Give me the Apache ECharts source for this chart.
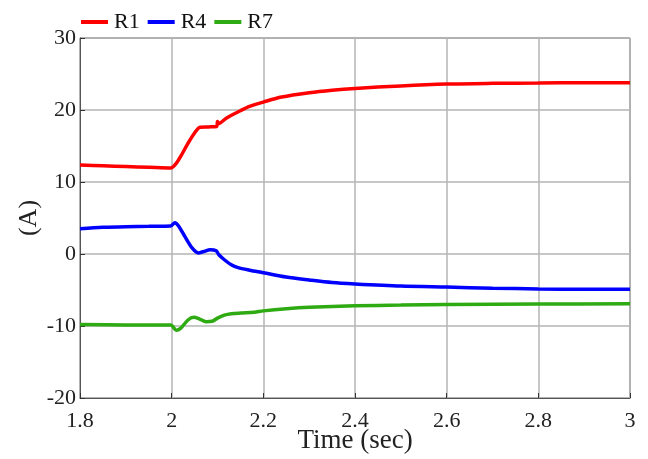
<!DOCTYPE html>
<html>
<head>
<meta charset="utf-8">
<script src="https://cdn.jsdelivr.net/npm/echarts@6/dist/echarts.min.js"></script>
<style>html,body{margin:0;padding:0;background:#fff}#c{width:648px;height:459px}</style>
</head>
<body>
<div id="c"></div>
<script>
var seriesNames = ['R1', 'R4', 'R7'];
var xTicks = [1.8, 2, 2.2, 2.4, 2.6, 2.8, 3];
var yTicks = [-20, -10, 0, 10, 20, 30];

var r1Time = [1.8,1.85,1.9,1.95,1.998,2.01,2.02,2.035,2.05,2.062,2.08,2.098,2.1,2.102,2.12,2.15,2.17,2.2,2.24,2.3,2.35,2.4,2.5,2.6,2.7,2.8,2.9,3.0];
var r1Values = [12.35,12.25,12.15,12.05,11.95,12.6,13.6,15.3,16.8,17.6,17.65,17.7,18.4,18.1,18.9,19.9,20.5,21.1,21.8,22.4,22.75,23.0,23.35,23.6,23.7,23.75,23.8,23.8];

var r4Time = [1.8,1.85,1.9,1.95,1.998,2.007,2.015,2.03,2.045,2.058,2.07,2.084,2.097,2.103,2.115,2.13,2.145,2.17,2.2,2.25,2.3,2.35,2.4,2.5,2.6,2.7,2.8,2.9,3.0];
var r4Values = [3.5,3.7,3.8,3.85,3.9,4.35,3.9,2.3,0.8,0.15,0.35,0.6,0.45,-0.1,-0.8,-1.5,-1.9,-2.25,-2.6,-3.2,-3.6,-3.95,-4.15,-4.45,-4.6,-4.75,-4.85,-4.9,-4.9];

var r7Time = [1.8,1.9,1.998,2.01,2.02,2.035,2.048,2.06,2.075,2.088,2.1,2.115,2.13,2.15,2.18,2.2,2.25,2.3,2.4,2.5,2.6,2.8,3.0];
var r7Values = [-9.8,-9.85,-9.85,-10.6,-10.3,-9.2,-8.8,-9.0,-9.4,-9.35,-8.9,-8.5,-8.3,-8.2,-8.1,-7.9,-7.6,-7.4,-7.2,-7.1,-7.0,-6.95,-6.9];

function pairs(t, v) { return t.map(function (x, i) { return [x, v[i]]; }); }

var font = "'Liberation Serif', 'Times New Roman', serif";
var colors = ['#ff0000', '#0000ff', '#2eaa12'];
var chart = echarts.init(document.getElementById('c'), null, { renderer: 'canvas' });
var data = [pairs(r1Time, r1Values), pairs(r4Time, r4Values), pairs(r7Time, r7Values)];

chart.setOption({
  animation: false,
  backgroundColor: '#fff',
  color: colors,
  grid: { left: 80, right: 18, top: 38, bottom: 61, containLabel: false, outerBoundsMode: 'none',
    show: true, borderColor: '#555', borderWidth: 1, backgroundColor: 'transparent' },
  legend: {
    data: seriesNames,
    left: 76, top: 6,
    icon: 'rect', itemWidth: 27, itemHeight: 4, itemGap: 8,
    textStyle: { fontFamily: font, fontSize: 22, color: '#111', padding: [0, 0, 0, 1] }
  },
  xAxis: {
    type: 'value', min: 1.8, max: 3, interval: 0.2,
    name: 'Time (sec)', nameLocation: 'middle', nameGap: 29, nameMoveOverlap: false,
    nameTextStyle: { fontFamily: font, fontSize: 27, color: '#222' },
    axisLine: { show: true, onZero: false, lineStyle: { color: '#555', width: 1 } },
    axisTick: { show: true, inside: true, length: 5, lineStyle: { color: '#333' } },
    axisLabel: { fontFamily: font, fontSize: 22, color: '#222', margin: 12,
      formatter: function (v) { return String(Math.round(v * 10) / 10); } },
    splitLine: { show: true, lineStyle: { color: '#b4b4b4', width: 1.5 } }
  },
  yAxis: {
    type: 'value', min: -20, max: 30, interval: 10,
    name: '(A)', nameLocation: 'middle', nameGap: 38, nameRotate: 90, nameMoveOverlap: false,
    nameTextStyle: { fontFamily: font, fontSize: 26, color: '#222' },
    axisLine: { show: true, onZero: false, lineStyle: { color: '#555', width: 1 } },
    axisTick: { show: true, inside: true, length: 5, lineStyle: { color: '#333' } },
    axisLabel: { fontFamily: font, fontSize: 22, color: '#222', margin: 4 },
    splitLine: { show: true, lineStyle: { color: '#b4b4b4', width: 1.5 } }
  },
  series: seriesNames.map(function (n, i) {
    return { name: n, type: 'line', data: data[i], showSymbol: false, smooth: 0.3,
      lineStyle: { width: 3.5, color: colors[i] }, itemStyle: { color: colors[i] } };
  })
});
</script>
</body>
</html>
